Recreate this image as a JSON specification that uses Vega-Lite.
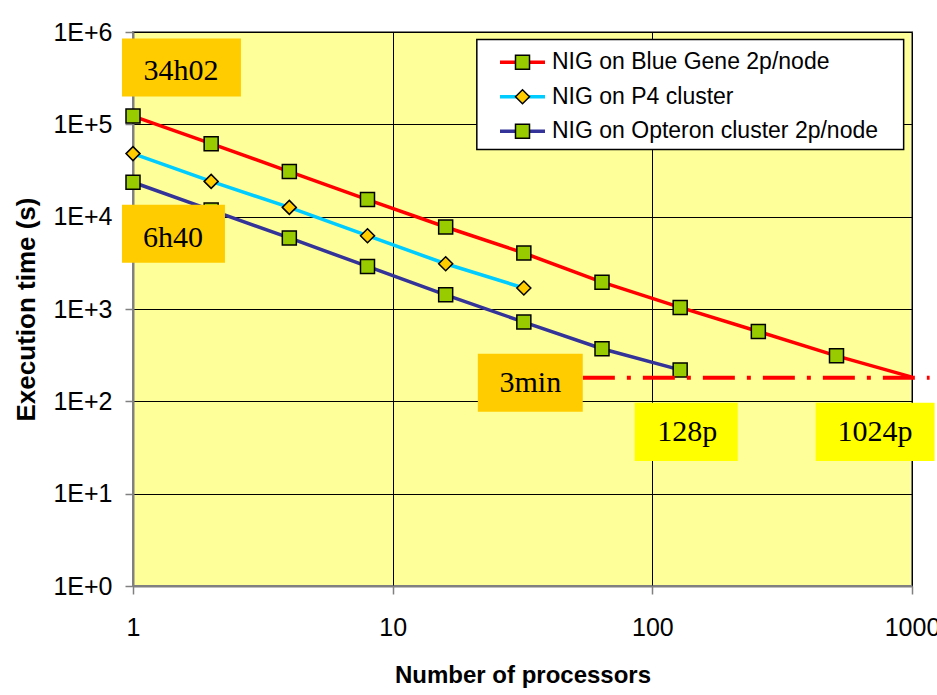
{
  "$schema": "https://vega.github.io/schema/vega-lite/v6.json",
  "width": 779,
  "height": 554,
  "autosize": {"type": "none"},
  "padding": {"left": 133, "top": 32, "right": 25, "bottom": 109},
  "background": "white",
  "config": {
    "view": {"fill": "#FFFF99", "stroke": "#808080", "strokeWidth": 2},
    "font": "Liberation Sans"
  },
  "datasets": {
    "perf": [
      {"procs": 1, "time": 123000, "series": "NIG on Blue Gene 2p/node"},
      {"procs": 2, "time": 61800, "series": "NIG on Blue Gene 2p/node"},
      {"procs": 4, "time": 30800, "series": "NIG on Blue Gene 2p/node"},
      {"procs": 8, "time": 15300, "series": "NIG on Blue Gene 2p/node"},
      {"procs": 16, "time": 7730, "series": "NIG on Blue Gene 2p/node"},
      {"procs": 32, "time": 4040, "series": "NIG on Blue Gene 2p/node"},
      {"procs": 64, "time": 1950, "series": "NIG on Blue Gene 2p/node"},
      {"procs": 128, "time": 1040, "series": "NIG on Blue Gene 2p/node"},
      {"procs": 256, "time": 571, "series": "NIG on Blue Gene 2p/node"},
      {"procs": 512, "time": 311, "series": "NIG on Blue Gene 2p/node"},
      {"procs": 1000, "time": 183, "series": "NIG on Blue Gene 2p/node"},
      {"procs": 1, "time": 48200, "series": "NIG on P4 cluster"},
      {"procs": 2, "time": 24100, "series": "NIG on P4 cluster"},
      {"procs": 4, "time": 12600, "series": "NIG on P4 cluster"},
      {"procs": 8, "time": 6220, "series": "NIG on P4 cluster"},
      {"procs": 16, "time": 3090, "series": "NIG on P4 cluster"},
      {"procs": 32, "time": 1690, "series": "NIG on P4 cluster"},
      {"procs": 1, "time": 23600, "series": "NIG on Opteron cluster 2p/node"},
      {"procs": 2, "time": 11800, "series": "NIG on Opteron cluster 2p/node"},
      {"procs": 4, "time": 5880, "series": "NIG on Opteron cluster 2p/node"},
      {"procs": 8, "time": 2890, "series": "NIG on Opteron cluster 2p/node"},
      {"procs": 16, "time": 1425, "series": "NIG on Opteron cluster 2p/node"},
      {"procs": 32, "time": 722, "series": "NIG on Opteron cluster 2p/node"},
      {"procs": 64, "time": 371, "series": "NIG on Opteron cluster 2p/node"},
      {"procs": 128, "time": 219, "series": "NIG on Opteron cluster 2p/node"}
    ],
    "boxes": [
      {"label": "34h02", "kind": "orange", "x1": 0.907, "x2": 2.604, "y1": 199900, "y2": 850000, "tx": 1.53, "ty": 382500},
      {"label": "6h40", "kind": "orange", "x1": 0.907, "x2": 2.26, "y1": 3172, "y2": 13490, "tx": 1.426, "ty": 5921},
      {"label": "3min", "kind": "orange", "x1": 21.28, "x2": 53.96, "y1": 76.9, "y2": 327.3, "tx": 33.9, "ty": 156.7},
      {"label": "128p", "kind": "yellow", "x1": 85.55, "x2": 213.2, "y1": 22.65, "y2": 96.3, "tx": 136.3, "ty": 46.1},
      {"label": "1024p", "kind": "yellow", "x1": 425.6, "x2": 1222, "y1": 22.65, "y2": 96.3, "tx": 719.7, "ty": 46.1}
    ],
    "legendbox": [
      {"x1": 21.09, "x2": 928.6, "y1": 53230, "y2": 829600}
    ],
    "limit": [
      {"x": 54, "x2": 1169, "y": 180}
    ]
  },
  "layer": [
    {
      "data": {"name": "perf"},
      "mark": {"type": "line", "strokeWidth": 3.5},
      "encoding": {
        "x": {
          "field": "procs", "type": "quantitative",
          "scale": {"type": "log", "domain": [1, 1000]},
          "axis": {
            "title": "Number of processors", "values": [1, 10, 100, 1000], "format": "d",
            "grid": true, "gridColor": "#000000", "gridWidth": 1,
            "domainColor": "#808080", "domainWidth": 2, "tickColor": "#808080", "tickWidth": 1.5, "tickSize": 8,
            "labelFontSize": 25, "labelColor": "#000000", "labelPadding": 21, "labelFlush": false,
            "titleFontSize": 24, "titleColor": "#000000", "titlePadding": 23
          }
        },
        "y": {
          "field": "time", "type": "quantitative",
          "scale": {"type": "log", "domain": [1, 1000000]},
          "axis": {
            "title": "Execution time (s)", "values": [1, 10, 100, 1000, 10000, 100000, 1000000],
            "labelExpr": "'1E+' + round(log(datum.value) / LN10)",
            "grid": true, "gridColor": "#000000", "gridWidth": 1,
            "domainColor": "#808080", "domainWidth": 2, "tickColor": "#808080", "tickWidth": 1.5, "tickSize": 8,
            "labelFontSize": 25, "labelColor": "#000000", "labelPadding": 13,
            "titleFontSize": 26, "titleColor": "#000000", "titlePadding": 13
          }
        },
        "color": {
          "field": "series", "type": "nominal",
          "scale": {
            "domain": ["NIG on Blue Gene 2p/node", "NIG on P4 cluster", "NIG on Opteron cluster 2p/node"],
            "range": ["#FF0000", "#00CCFF", "#333399"]
          },
          "legend": {
            "orient": "none", "legendX": 367, "legendY": 18.8, "title": null,
            "symbolType": "M-3,0H3", "symbolSize": 225, "symbolStrokeWidth": 3.5, "symbolOffset": 11,
            "labelOffset": 18, "labelFontSize": 23, "labelColor": "#000000",
            "labelLimit": 500, "rowPadding": 10.5, "padding": 0, "zindex": 0
          }
        }
      }
    },
    {
      "data": {"name": "legendbox"},
      "mark": {"type": "rect", "fill": "white", "stroke": "black", "strokeWidth": 1.5},
      "encoding": {
        "x": {"field": "x1", "type": "quantitative", "scale": {"type": "log", "domain": [1, 1000]}},
        "x2": {"field": "x2"},
        "y": {"field": "y1", "type": "quantitative", "scale": {"type": "log", "domain": [1, 1000000]}},
        "y2": {"field": "y2"}
      }
    },
    {
      "data": {"name": "perf"},
      "transform": [{"filter": "datum.procs <= 512"}],
      "mark": {"type": "point", "filled": true, "size": 196, "stroke": "#000000", "strokeWidth": 1.5, "opacity": 1},
      "encoding": {
        "x": {"field": "procs", "type": "quantitative", "scale": {"type": "log", "domain": [1, 1000]}},
        "y": {"field": "time", "type": "quantitative", "scale": {"type": "log", "domain": [1, 1000000]}},
        "fill": {
          "field": "series", "type": "nominal",
          "scale": {"range": ["#99CC00", "#99CC00", "#FFCC00"]},
          "legend": {
            "orient": "none", "legendX": 367, "legendY": 18.8, "title": null,
            "values": ["NIG on Blue Gene 2p/node", "NIG on P4 cluster", "NIG on Opteron cluster 2p/node"],
            "symbolSize": 196, "symbolStrokeColor": "#000000", "symbolStrokeWidth": 1.5, "symbolOffset": 11, "symbolOpacity": 1,
            "labelOffset": 18, "labelFontSize": 23, "labelOpacity": 0, "labelLimit": 500,
            "rowPadding": 10.5, "padding": 0, "zindex": 1,
            "encode": {"symbols": {"update": {"stroke": {"value": "#000000"}, "strokeWidth": {"value": 1.5}, "opacity": {"value": 1}}}}
          }
        },
        "shape": {
          "field": "series", "type": "nominal",
          "scale": {"range": ["square", "square", "diamond"]},
          "legend": {
            "orient": "none", "legendX": 367, "legendY": 18.8, "title": null,
            "values": ["NIG on Blue Gene 2p/node", "NIG on P4 cluster", "NIG on Opteron cluster 2p/node"],
            "symbolSize": 196, "symbolStrokeColor": "#000000", "symbolStrokeWidth": 1.5, "symbolOffset": 11, "symbolOpacity": 1,
            "labelOffset": 18, "labelFontSize": 23, "labelOpacity": 0, "labelLimit": 500,
            "rowPadding": 10.5, "padding": 0, "zindex": 1,
            "encode": {"symbols": {"update": {"stroke": {"value": "#000000"}, "strokeWidth": {"value": 1.5}, "opacity": {"value": 1}}}}
          }
        }
      }
    },
    {
      "data": {"name": "limit"},
      "mark": {"type": "rule", "color": "#FF0000", "strokeWidth": 4, "strokeDash": [32, 12, 4, 12], "strokeCap": "butt"},
      "encoding": {
        "x": {"field": "x", "type": "quantitative", "scale": {"type": "log", "domain": [1, 1000]}},
        "x2": {"field": "x2"},
        "y": {"field": "y", "type": "quantitative", "scale": {"type": "log", "domain": [1, 1000000]}}
      }
    },
    {
      "data": {"name": "boxes"},
      "transform": [{"filter": "datum.kind === 'orange'"}],
      "mark": {"type": "rect", "fill": "#FFCC00"},
      "encoding": {
        "x": {"field": "x1", "type": "quantitative", "scale": {"type": "log", "domain": [1, 1000]}},
        "x2": {"field": "x2"},
        "y": {"field": "y1", "type": "quantitative", "scale": {"type": "log", "domain": [1, 1000000]}},
        "y2": {"field": "y2"}
      }
    },
    {
      "data": {"name": "boxes"},
      "transform": [{"filter": "datum.kind === 'yellow'"}],
      "mark": {"type": "rect", "fill": "#FFFF00"},
      "encoding": {
        "x": {"field": "x1", "type": "quantitative", "scale": {"type": "log", "domain": [1, 1000]}},
        "x2": {"field": "x2"},
        "y": {"field": "y1", "type": "quantitative", "scale": {"type": "log", "domain": [1, 1000000]}},
        "y2": {"field": "y2"}
      }
    },
    {
      "data": {"name": "boxes"},
      "mark": {"type": "text", "font": "Liberation Serif", "fontSize": 30, "color": "#000000", "align": "center", "baseline": "middle"},
      "encoding": {
        "x": {"field": "tx", "type": "quantitative", "scale": {"type": "log", "domain": [1, 1000]}},
        "y": {"field": "ty", "type": "quantitative", "scale": {"type": "log", "domain": [1, 1000000]}},
        "text": {"field": "label", "type": "nominal"}
      }
    }
  ]
}
